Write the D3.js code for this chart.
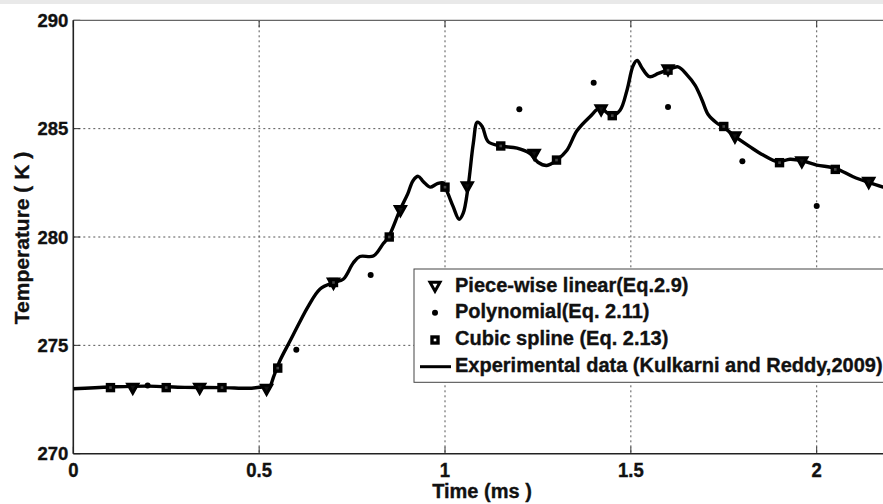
<!DOCTYPE html>
<html><head><meta charset="utf-8">
<script src="https://cdn.jsdelivr.net/npm/d3@7"></script>
<style>
html,body{margin:0;padding:0;background:#fff;}
svg{display:block;font-family:"Liberation Sans",Arial,sans-serif;font-weight:bold;}
</style></head>
<body><svg id="c" width="883" height="504"></svg>
<script>
// ---- data ----
const expTime = [0.00,0.10,0.20,0.30,0.40,0.48,0.51,0.525,0.54,0.556,0.583,0.61,0.632,0.664,0.70,0.726,0.753,0.771,0.807,0.834,0.848,0.879,0.90,0.914,0.928,0.942,0.96,0.978,0.995,1.008,1.022,1.038,1.049,1.062,1.076,1.087,1.10,1.116,1.148,1.194,1.229,1.25,1.274,1.301,1.328,1.355,1.39,1.417,1.449,1.471,1.49,1.506,1.517,1.53,1.55,1.574,1.601,1.627,1.651,1.673,1.692,1.708,1.732,1.748,1.781,1.82,1.856,1.896,1.928,1.961,2.00,2.05,2.098,2.143,2.18,2.2];
const expTemp = [273.00,273.08,273.12,273.06,273.05,273.02,273.08,273.0,273.6,274.3,275.2,276.1,276.8,277.6,277.9,278.05,278.8,279.1,279.12,279.7,280.0,281.25,282.0,282.6,282.8,282.55,282.3,282.45,282.5,282.0,281.4,280.82,281.1,282.3,284.3,285.3,285.1,284.4,284.2,284.1,283.85,283.45,283.3,283.55,284.0,284.9,285.55,285.95,285.6,285.85,286.8,287.9,288.15,287.8,287.4,287.55,287.72,287.85,287.48,287.0,286.3,285.65,285.25,285.09,284.63,284.17,283.78,283.47,283.59,283.52,283.32,283.17,282.78,282.5,282.3,282.2];

const pwlTime = [0.16,0.34,0.52,0.70,0.88,1.06,1.24,1.42,1.60,1.78,1.96,2.14];
const pwlTemp = [273.0,273.0,272.95,277.85,281.2,282.3,283.8,285.85,287.7,284.6,283.45,282.5];

const polyTime = [0.2,0.4,0.6,0.8,1.0,1.2,1.4,1.6,1.8,2.0];
const polyTemp = [273.15,273.05,274.8,278.25,282.3,285.9,287.12,286.0,283.5,281.43];

const splTime = [0.10,0.25,0.40,0.55,0.70,0.85,1.00,1.15,1.30,1.45,1.60,1.75,1.90,2.05];
const splTemp = [273.05,273.05,273.05,273.95,277.9,280.0,282.3,284.2,283.55,285.6,287.7,285.1,283.43,283.12];

const xTicks = [0,0.5,1,1.5,2];
const xTickLabels = ["0","0.5","1","1.5","2"];
const yTicks = [270,275,280,285,290];
const yTickLabels = ["270","275","280","285","290"];

const legendLabels = ["Piece-wise linear(Eq.2.9)","Polynomial(Eq. 2.11)","Cubic spline (Eq. 2.13)","Experimental data (Kulkarni and Reddy,2009)"];
const xTitle = "Time (ms )";
const yTitle = "Temperature ( K )";

// ---- layout ----
const svg = d3.select("#c");
const L = 73.3, T = 20.3, B = 453.7;
const x = d3.scaleLinear().domain([0,2]).range([L,816.7]);
const y = d3.scaleLinear().domain([270,290]).range([B,T]);
const R = x(2.2);
const txtStroke = 0.35;

// faint scan band at top
svg.append("rect").attr("x",0).attr("y",0).attr("width",883).attr("height",4).attr("fill","#e9e9e9");

// grid
const grid = svg.append("g").attr("stroke","#555").attr("stroke-width",1).attr("stroke-dasharray","2,3");
xTicks.filter(v=>v>0).forEach(v=>{
  grid.append("line").attr("x1",x(v)).attr("x2",x(v)).attr("y1",T).attr("y2",B);
});
yTicks.filter(v=>v>270 && v<290).forEach(v=>{
  grid.append("line").attr("x1",L).attr("x2",R).attr("y1",y(v)).attr("y2",y(v));
});

// ticks (inside)
const tk = svg.append("g").attr("stroke","#333").attr("stroke-width",1);
xTicks.forEach(v=>{
  tk.append("line").attr("x1",x(v)).attr("x2",x(v)).attr("y1",B).attr("y2",B-7);
  tk.append("line").attr("x1",x(v)).attr("x2",x(v)).attr("y1",T).attr("y2",T+7);
});
yTicks.forEach(v=>{
  tk.append("line").attr("x1",L).attr("x2",L+7).attr("y1",y(v)).attr("y2",y(v));
});

// frame
svg.append("line").attr("x1",L).attr("x2",R).attr("y1",T).attr("y2",T).attr("stroke","#666").attr("stroke-width",1.2);
svg.append("line").attr("x1",L).attr("x2",R).attr("y1",B).attr("y2",B).attr("stroke","#222").attr("stroke-width",1.6);
svg.append("line").attr("x1",L).attr("x2",L).attr("y1",T).attr("y2",B).attr("stroke","#222").attr("stroke-width",1.6);

// tick labels
const xl = svg.append("g").attr("font-size",18.5).attr("fill","#111").attr("stroke","#111").attr("stroke-width",txtStroke).attr("text-anchor","middle");
xTicks.forEach((v,i)=>{
  xl.append("text").attr("x",x(v)).attr("y",477).attr("transform",`translate(0,${-477*0.1}) scale(1,1.1)`).text(xTickLabels[i]);
});
const yl = svg.append("g").attr("font-size",18.5).attr("fill","#111").attr("stroke","#111").attr("stroke-width",txtStroke).attr("text-anchor","end");
yTicks.forEach((v,i)=>{
  yl.append("text").attr("x",L-5).attr("y",y(v)+6.5).text(yTickLabels[i]);
});

// axis titles
svg.append("text").attr("x",482).attr("y",498).attr("text-anchor","middle").attr("font-size",20).attr("fill","#111").attr("stroke","#111").attr("stroke-width",txtStroke).text(xTitle);
svg.append("text").attr("transform","translate(29,238) rotate(-90)").attr("text-anchor","middle").attr("font-size",21).attr("fill","#111").attr("stroke","#111").attr("stroke-width",txtStroke).text(yTitle);

// clip
svg.append("clipPath").attr("id","clip").append("rect").attr("x",L).attr("y",T-10).attr("width",R-L+10).attr("height",B-T+10);
const plot = svg.append("g").attr("clip-path","url(#clip)");

// experimental line
const expData = expTime.map((t,i)=>[t,expTemp[i]]);
const line = d3.line().x(d=>x(d[0])).y(d=>y(d[1])).curve(d3.curveCatmullRom.alpha(0.5));
plot.append("path").attr("d",line(expData)).attr("fill","none").attr("stroke","#000").attr("stroke-width",3.4).attr("stroke-linejoin","round");

// markers
function tri(g,cx,cy,fill){
  g.append("path").attr("d",`M${cx-5},${cy-4.5} L${cx+5},${cy-4.5} L${cx},${cy+4.5} Z`)
   .attr("fill",fill).attr("stroke","#000").attr("stroke-width",3).attr("stroke-linejoin","miter");
}
function sq(g,cx,cy,fill){
  g.append("rect").attr("x",cx-3).attr("y",cy-3).attr("width",6).attr("height",6)
   .attr("fill",fill).attr("stroke","#000").attr("stroke-width",3.4);
}
function dot(g,cx,cy){
  g.append("circle").attr("cx",cx).attr("cy",cy).attr("r",3).attr("fill","#000");
}
pwlTime.forEach((t,i)=>tri(plot,x(t),y(pwlTemp[i]),"#111"));
polyTime.forEach((t,i)=>dot(plot,x(t),y(polyTemp[i])));
splTime.forEach((t,i)=>sq(plot,x(t),y(splTemp[i]),"#444"));

// legend
const lg = svg.append("g");
lg.append("rect").attr("x",414).attr("y",269).attr("width",490).attr("height",113.3).attr("fill","#fff").attr("stroke","#444").attr("stroke-width",1);
const rowsY = [286.7,312.7,340,366.7];
tri(lg,435,rowsY[0],"#fff");
dot(lg,435,rowsY[1]);
sq(lg,435,rowsY[2],"#fff");
lg.append("line").attr("x1",420).attr("x2",451).attr("y1",rowsY[3]).attr("y2",rowsY[3]).attr("stroke","#000").attr("stroke-width",3);
const base = [291.7,318.3,345,372.3];
legendLabels.forEach((s,i)=>{
  lg.append("text").attr("x",455).attr("y",base[i]).attr("font-size",20).attr("fill","#111").attr("stroke","#111").attr("stroke-width",txtStroke).text(s);
});
</script></body></html>
